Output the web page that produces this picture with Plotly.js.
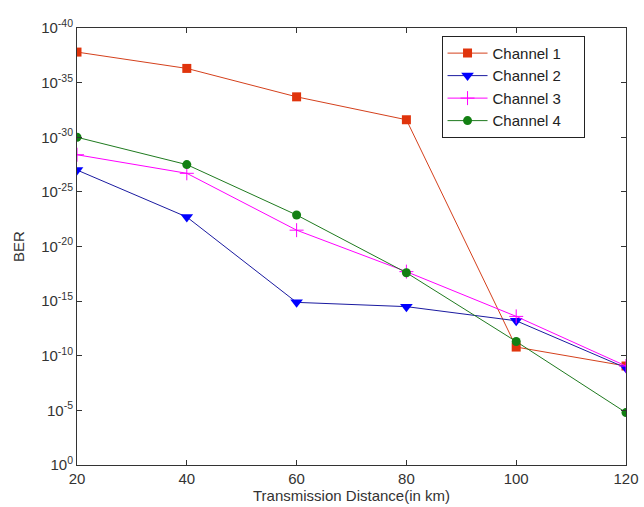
<!DOCTYPE html>
<html><head><meta charset="utf-8">
<script src="https://cdn.plot.ly/plotly-3.0.1.min.js"></script>
<style>body{margin:0;background:#fff}#c{width:644px;height:507px}</style>
</head><body><div id="c"></div>
<script>
const distance = [20, 40, 60, 80, 100, 120];
const channel1 = [1.6e-38, 5e-37, 2e-34, 2.5e-32, 1.6e-11, 8.7e-10];
const channel2 = [1e-27, 2e-23, 1.3e-15, 3.2e-15, 6.3e-14, 1.3e-9];
const channel3 = [4e-29, 2e-27, 3.2e-22, 2e-18, 2.5e-14, 8.7e-10];
const channel4 = [1e-30, 3.2e-28, 1.3e-23, 2.5e-18, 5e-12, 1.6e-5];
const seriesNames = ["Channel 1", "Channel 2", "Channel 3", "Channel 4"];
const yTickVals = [1e-40, 1e-35, 1e-30, 1e-25, 1e-20, 1e-15, 1e-10, 1e-5, 1];
const yTickText = ["10<sup>-40</sup>","10<sup>-35</sup>","10<sup>-30</sup>","10<sup>-25</sup>","10<sup>-20</sup>","10<sup>-15</sup>","10<sup>-10</sup>","10<sup>-5</sup>","10<sup>0</sup>"];
const xTickVals = [20, 40, 60, 80, 100, 120];

const pad = '\u00a0\u00a0\u00a0\u00a0';
const traces = [
  {x: distance, y: channel1, name: seriesNames[0] + pad, mode: 'lines+markers',
   line: {color: '#d4401c', width: 1},
   marker: {symbol: 'square', size: 9, color: '#e0340c'}},
  {x: distance, y: channel2, name: seriesNames[1] + pad, mode: 'lines+markers',
   line: {color: '#1a1aa0', width: 1},
   marker: {symbol: 'triangle-down', size: 11, color: '#0000ff'}},
  {x: distance, y: channel3, name: seriesNames[2] + pad, mode: 'lines+markers',
   line: {color: '#ff00ff', width: 1},
   marker: {symbol: 'cross-thin', size: 10, color: '#ff00ff', line: {color: '#ff00ff', width: 1}}},
  {x: distance, y: channel4, name: seriesNames[3] + pad, mode: 'lines+markers',
   line: {color: '#1f7a1f', width: 1},
   marker: {symbol: 'circle', size: 9, color: '#138013'}}
];

const axisFont = {family: 'Liberation Sans, Arial, sans-serif', size: 15, color: '#333'};
const layout = {
  width: 644, height: 507,
  margin: {l: 77, r: 18, t: 28, b: 42},
  paper_bgcolor: '#fff', plot_bgcolor: '#fff',
  font: axisFont,
  showlegend: true,
  legend: {x: 0.664, y: 0.982, xanchor: 'left', yanchor: 'top',
    bgcolor: '#fff', bordercolor: '#222', borderwidth: 1,
    font: {family: 'Liberation Sans, Arial, sans-serif', size: 15, color: '#222'},
    tracegroupgap: 0, itemwidth: 40},
  xaxis: {range: [20, 120], tickvals: xTickVals, ticks: 'inside', ticklen: 5,
    showgrid: false, zeroline: false, showline: true, mirror: 'ticks',
    linecolor: '#333', linewidth: 1, tickcolor: '#333', tickfont: axisFont,
    title: {text: 'Transmission Distance(in km)', font: axisFont, standoff: 0}},
  yaxis: {type: 'log', range: [0, -40], tickvals: yTickVals, ticktext: yTickText,
    ticks: 'inside', ticklen: 5, showgrid: false, zeroline: false,
    showline: true, mirror: 'ticks', linecolor: '#333', linewidth: 1, tickcolor: '#333',
    tickfont: axisFont,
    title: {text: 'BER', font: axisFont, standoff: 12}}
};
Plotly.newPlot('c', traces, layout, {displayModeBar: false, staticPlot: true});
</script></body></html>
